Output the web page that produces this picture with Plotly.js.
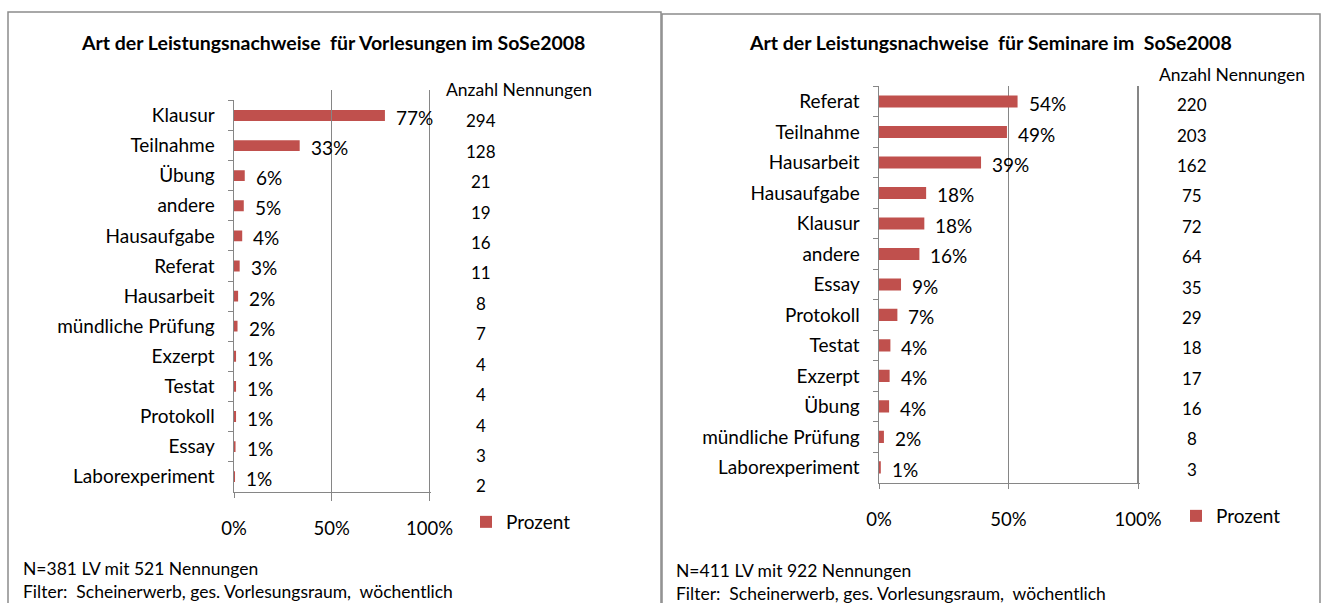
<!DOCTYPE html>
<html>
<head>
<meta charset="utf-8">
<script src="https://cdn.plot.ly/plotly-3.0.1.min.js"></script>
<style>html,body{margin:0;padding:0;background:#fff;}#chart{width:1327px;height:603px;}</style>
</head>
<body>
<div id="chart"></div>
<script>
// ---- Data: Vorlesungen (left) ----
const vlCategories = ["Klausur","Teilnahme","Übung","andere","Hausaufgabe","Referat","Hausarbeit","mündliche Prüfung","Exzerpt","Testat","Protokoll","Essay","Laborexperiment"];
const vlPercent = [77.2, 33.6, 5.5, 5.0, 4.2, 2.9, 2.1, 1.8, 1.05, 1.05, 1.05, 0.79, 0.52];
const vlLabels = ["77%","33%","6%","5%","4%","3%","2%","2%","1%","1%","1%","1%","1%"];
const vlCounts = [294, 128, 21, 19, 16, 11, 8, 7, 4, 4, 4, 3, 2];

// ---- Data: Seminare (right) ----
const seCategories = ["Referat","Teilnahme","Hausarbeit","Hausaufgabe","Klausur","andere","Essay","Protokoll","Testat","Exzerpt","Übung","mündliche Prüfung","Laborexperiment"];
const sePercent = [53.5, 49.4, 39.4, 18.2, 17.5, 15.6, 8.5, 7.1, 4.4, 4.1, 3.9, 1.9, 0.7];
const seLabels = ["54%","49%","39%","18%","18%","16%","9%","7%","4%","4%","4%","2%","1%"];
const seCounts = [220, 203, 162, 75, 72, 64, 35, 29, 18, 17, 16, 8, 3];

const xTickVals = [0, 50, 100];
const xTickText = ["0%", "50%", "100%"];

const titles = ["Art der Leistungsnachweise\u00a0 für Vorlesungen im SoSe2008", "Art der Leistungsnachweise\u00a0 für Seminare im\u00a0 SoSe2008"];
const footNotes = [["N=381 LV mit 521 Nennungen", "Filter:\u00a0 Scheinerwerb, ges. Vorlesungsraum,\u00a0 wöchentlich"],
                   ["N=411 LV mit 922 Nennungen", "Filter:\u00a0 Scheinerwerb, ges. Vorlesungsraum,\u00a0 wöchentlich"]];
const countHeader = "Anzahl Nennungen";
const seriesName = "Prozent";

// ---- helpers ----
const W = 1327, H = 603;
const fx = p => p / W;
const fy = p => 1 - p / H;
const FONT = "Lato, 'Open Sans', sans-serif";
const GRID = "#868686";
const BAR = "#c0504d";
const TXT = "#000";

const traces = [
  {type: "bar", orientation: "h", x: vlPercent, y: vlCategories, xaxis: "x", yaxis: "y",
   name: seriesName, marker: {color: BAR}, width: 0.36, hoverinfo: "none", legend: "legend"},
  {type: "bar", orientation: "h", x: sePercent, y: seCategories, xaxis: "x2", yaxis: "y2",
   name: seriesName, marker: {color: BAR}, width: 0.40, hoverinfo: "none", legend: "legend2"}
];

// x range slightly beyond 100 so that the 100% gridline is drawn
function xAxis(p0, p100, anchor) {
  const pxPerUnit = (p100 - p0) / 100;
  return {domain: [fx(p0), fx(p100 + 0.6 * pxPerUnit)], range: [0, 100.6], anchor: anchor, fixedrange: true,
    tickvals: xTickVals, ticktext: xTickText, showgrid: true, gridcolor: GRID, gridwidth: 1.3,
    zeroline: false, showline: true, linecolor: GRID, linewidth: 1.5, ticks: "outside", ticklen: 5,
    tickcolor: GRID, ticklabelstandoff: 15, tickfont: {family: FONT, size: 18.5, color: TXT}};
}
function yAxis(top, bottom, anchor, cats) {
  return {domain: [fy(bottom), fy(top)], anchor: anchor, type: "category", fixedrange: true,
    categoryorder: "array", categoryarray: cats, autorange: "reversed",
    showline: true, linecolor: GRID, linewidth: 1.5, ticks: "outside", tickson: "boundaries", ticklen: 5,
    tickcolor: GRID, showgrid: false, zeroline: false, ticklabelstandoff: 14,
    tickfont: {family: FONT, size: 19, color: TXT}};
}
// hidden index axis carrying the "Anzahl Nennungen" column
function countAxis(top, bottom) {
  return {domain: [fy(bottom), fy(top)], range: [12.5, -0.5], anchor: "free", position: 0,
    visible: false, fixedrange: true, showgrid: false, zeroline: false};
}

const annotations = [];
function addPanel(xa, ya, ca, cats, pct, labels, counts, numX, headerX, headerY, title, titleX, notes, noteX, noteY) {
  cats.forEach((c, i) => {
    annotations.push({xref: xa, yref: ya, x: pct[i], y: c, text: labels[i],
      showarrow: false, xanchor: "left", xshift: 9, yshift: -2, font: {family: FONT, size: 19, color: TXT}});
    annotations.push({xref: "paper", yref: ca, x: fx(numX), y: i, text: String(counts[i]),
      showarrow: false, xanchor: "center", yanchor: "middle", font: {family: FONT, size: 17, color: TXT}});
  });
  annotations.push({xref: "paper", yref: "paper", x: fx(headerX), y: fy(headerY), text: countHeader,
    showarrow: false, xanchor: "left", yanchor: "middle", font: {family: FONT, size: 17.5, color: TXT}});
  annotations.push({xref: "paper", yref: "paper", x: fx(titleX), y: fy(42), text: "<b>" + title + "</b>",
    showarrow: false, xanchor: "center", yanchor: "middle", font: {family: FONT, size: 19.5, color: TXT}});
  notes.forEach((t, k) => {
    annotations.push({xref: "paper", yref: "paper", x: fx(noteX), y: fy(noteY[k]), text: t,
      showarrow: false, xanchor: "left", yanchor: "middle", font: {family: FONT, size: 17.5, color: TXT}});
  });
}
addPanel("x", "y", "y3", vlCategories, vlPercent, vlLabels, vlCounts, 481, 444, 89, titles[0], 333, footNotes[0], 21, [568, 591]);
addPanel("x2", "y2", "y4", seCategories, sePercent, seLabels, seCounts, 1192, 1157, 74, titles[1], 990, footNotes[1], 674, [570, 593]);

const layout = {
  width: W, height: H, margin: {l: 0, r: 0, t: 0, b: 0, pad: 0},
  paper_bgcolor: "#fff", plot_bgcolor: "rgba(0,0,0,0)",
  font: {family: FONT, size: 17, color: TXT},
  xaxis: xAxis(234, 429.5, "y"),
  yaxis: yAxis(100, 491.7, "x", vlCategories),
  xaxis2: xAxis(879, 1138, "y2"),
  yaxis2: yAxis(86, 482.7, "x2", seCategories),
  yaxis3: countAxis(105.5, 501.2),
  yaxis4: countAxis(89.8, 484.2),
  showlegend: true,
  legend: {x: fx(466), y: fy(522), xanchor: "left", yanchor: "middle", bgcolor: "rgba(0,0,0,0)",
    font: {family: FONT, size: 19, color: TXT}, itemwidth: 30},
  legend2: {x: fx(1176), y: fy(516), xanchor: "left", yanchor: "middle", bgcolor: "rgba(0,0,0,0)",
    font: {family: FONT, size: 19, color: TXT}, itemwidth: 30},
  annotations: annotations,
  shapes: [
    {type: "rect", xref: "paper", yref: "paper", x0: fx(8), x1: fx(661), y0: fy(610), y1: fy(12),
     line: {color: "#8c8c8c", width: 1.5}, layer: "below"},
    {type: "rect", xref: "paper", yref: "paper", x0: fx(662), x1: fx(1320), y0: fy(610), y1: fy(14),
     line: {color: "#8c8c8c", width: 1.5}, layer: "below"}
  ]
};

Plotly.newPlot("chart", traces, layout, {staticPlot: true, displayModeBar: false});
</script>
</body>
</html>
